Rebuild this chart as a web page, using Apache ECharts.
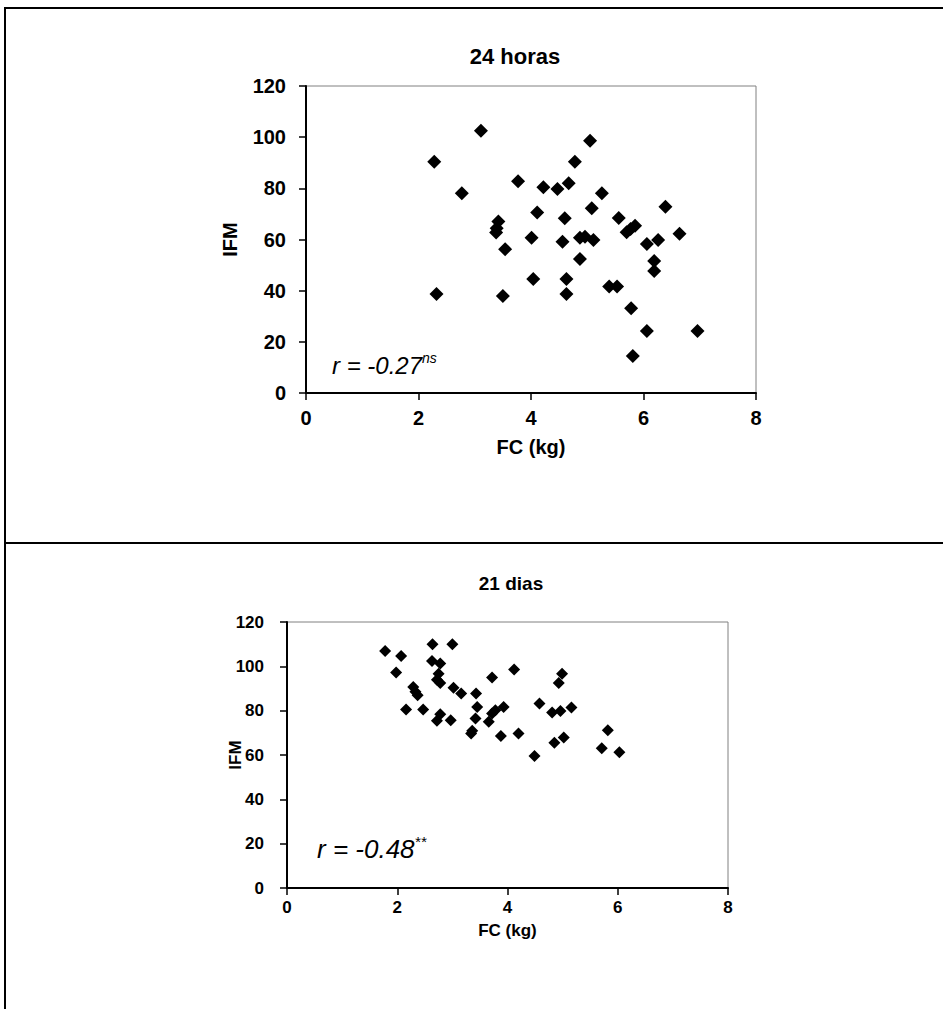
<!DOCTYPE html>
<html>
<head>
<meta charset="utf-8">
<script src="https://cdn.jsdelivr.net/npm/echarts@6/dist/echarts.min.js"></script>
<style>
  html, body { margin: 0; padding: 0; background: #fff; overflow: hidden; }
  #chart { position: absolute; left: 0; top: 0; width: 943px; height: 1009px; }
  .frame { position: absolute; left: 4px; top: 7px; width: 1000px; height: 1100px;
           border-top: 2px solid #000; border-left: 2px solid #000; }
  .divider { position: absolute; left: 4px; top: 542px; width: 1000px; border-top: 2px solid #000; }
</style>
</head>
<body>
<div class="frame"></div>
<div class="divider"></div>
<div id="chart"></div>
<script>
// 24 horas: FC (kg) vs IFM
const fc24 = [2.28, 3.11, 2.77, 3.42, 3.39, 3.38, 3.54, 2.32, 3.50, 3.77,
  5.05, 4.78, 4.22, 4.47, 4.67, 5.26, 6.39, 4.11, 5.08, 4.60,
  5.56, 5.85, 5.77, 5.70, 6.64, 4.01, 4.56, 4.87, 4.96, 5.11,
  6.06, 6.26, 6.19, 6.19, 4.87, 4.04, 4.63, 4.63, 5.39, 5.53,
  5.78, 6.06, 6.96, 5.81];
const ifm24 = [90.4, 102.5, 78.1, 67.0, 64.4, 62.7, 56.2, 38.7, 37.9, 82.8,
  98.6, 90.4, 80.4, 79.7, 82.0, 78.1, 72.8, 70.6, 72.2, 68.3,
  68.4, 65.4, 64.1, 62.8, 62.2, 60.7, 59.1, 60.7, 61.1, 59.8,
  58.2, 59.8, 51.6, 47.7, 52.4, 44.6, 44.6, 38.7, 41.6, 41.6,
  33.1, 24.2, 24.2, 14.5];

// 21 dias
const fc21 = [1.78, 2.07, 2.64, 3.00, 1.98, 2.63, 2.78, 2.75, 2.72, 2.78,
  2.29, 2.33, 2.37, 3.02, 3.16, 3.43, 2.16, 2.47, 2.78, 2.72,
  2.97, 3.45, 3.42, 3.36, 3.34, 4.12, 3.72, 3.72, 3.78, 3.93,
  3.66, 3.88, 4.20, 4.49, 4.58, 4.99, 4.93, 4.81, 4.96, 5.16,
  4.85, 5.02, 5.82, 5.71, 6.03];
const ifm21 = [106.9, 104.7, 110.0, 110.0, 97.2, 102.4, 101.3, 96.7, 94.0, 92.5,
  90.7, 88.5, 87.0, 90.3, 87.7, 87.7, 80.5, 80.5, 78.4, 75.4,
  75.7, 81.7, 76.5, 70.9, 69.7, 98.6, 95.0, 78.7, 80.2, 81.7,
  75.0, 68.6, 69.7, 59.5, 83.2, 96.7, 92.5, 79.2, 79.9, 81.4,
  65.5, 67.9, 71.2, 63.0, 61.2];

const titles = ['24 horas', '21 dias'];
const rLabels = [['r = -0.27', 'ns'], ['r = -0.48', '**']];

const FONT = '"Liberation Sans", Arial, sans-serif';

const zip = (xs, ys) => xs.map((x, i) => [x, ys[i]]);

// eixo X / Y comum, só muda tamanho de fonte e margens
const makeX = (idx, fontSize, margin, nameGap) => ({
  gridIndex: idx,
  type: 'value',
  min: 0, max: 8, interval: 2,
  name: 'FC (kg)',
  nameLocation: 'middle',
  nameGap: nameGap,
  nameMoveOverlap: false,
  nameTextStyle: { fontFamily: FONT, fontWeight: 'bold', fontSize: fontSize, color: '#000' },
  axisLine: { show: true, onZero: false, lineStyle: { color: '#000', width: 2 } },
  axisTick: { show: true, length: 7, lineStyle: { color: '#000', width: 1.5 } },
  axisLabel: { fontFamily: FONT, fontWeight: 'bold', fontSize: fontSize, color: '#000', margin: margin },
  splitLine: { show: false }
});

const makeY = (idx, fontSize, margin, nameGap) => ({
  gridIndex: idx,
  type: 'value',
  min: 0, max: 120, interval: 20,
  name: 'IFM',
  nameLocation: 'middle',
  nameGap: nameGap,
  nameMoveOverlap: false,
  nameTextStyle: { fontFamily: FONT, fontWeight: 'bold', fontSize: fontSize, color: '#000' },
  axisLine: { show: true, onZero: false, lineStyle: { color: '#000', width: 2 } },
  axisTick: { show: true, length: 7, lineStyle: { color: '#000', width: 1.5 } },
  axisLabel: { fontFamily: FONT, fontWeight: 'bold', fontSize: fontSize, color: '#000', margin: margin },
  splitLine: { show: false }
});

const rText = (i, left, top, size) => ({
  type: 'text',
  left: left,
  top: top,
  style: {
    text: '{a|' + rLabels[i][0] + '}{b|' + rLabels[i][1] + '}',
    rich: {
      a: { fontFamily: FONT, fontStyle: 'italic', fontSize: size, fill: '#000', lineHeight: size + 4 },
      b: { fontFamily: FONT, fontStyle: 'italic', fontSize: Math.round(size * 0.58), fill: '#000', verticalAlign: 'top', lineHeight: size + 4 }
    }
  }
});

const chart = echarts.init(document.getElementById('chart'), null, { renderer: 'svg' });

const option = {
  backgroundColor: 'transparent',
  animation: false,
  title: [
    { text: titles[0], left: 510, top: 40, textAlign: 'center',
      textStyle: { fontFamily: FONT, fontWeight: 'bold', fontSize: 22, color: '#000' } },
    { text: titles[1], left: 506, top: 569, textAlign: 'center',
      textStyle: { fontFamily: FONT, fontWeight: 'bold', fontSize: 19, color: '#000' } }
  ],
  grid: [
    { left: 306, top: 86, width: 450, height: 307, show: true, borderColor: '#808080', borderWidth: 1 },
    { left: 287, top: 622, width: 441, height: 266, show: true, borderColor: '#808080', borderWidth: 1 }
  ],
  xAxis: [makeX(0, 20, 15, 44), makeX(1, 17, 11, 34)],
  yAxis: [makeY(0, 20, 20, 66), makeY(1, 17, 23, 43)],
  series: [
    {
      type: 'scatter', xAxisIndex: 0, yAxisIndex: 0,
      symbol: 'diamond', symbolSize: 14,
      itemStyle: { color: '#000', opacity: 1 },
      data: zip(fc24, ifm24)
    },
    {
      type: 'scatter', xAxisIndex: 1, yAxisIndex: 1,
      symbol: 'diamond', symbolSize: 12,
      itemStyle: { color: '#000', opacity: 1 },
      data: zip(fc21, ifm21)
    }
  ],
  graphic: [rText(0, 332, 351, 24), rText(1, 317, 834, 26)]
};

chart.setOption(option);
</script>
</body>
</html>
